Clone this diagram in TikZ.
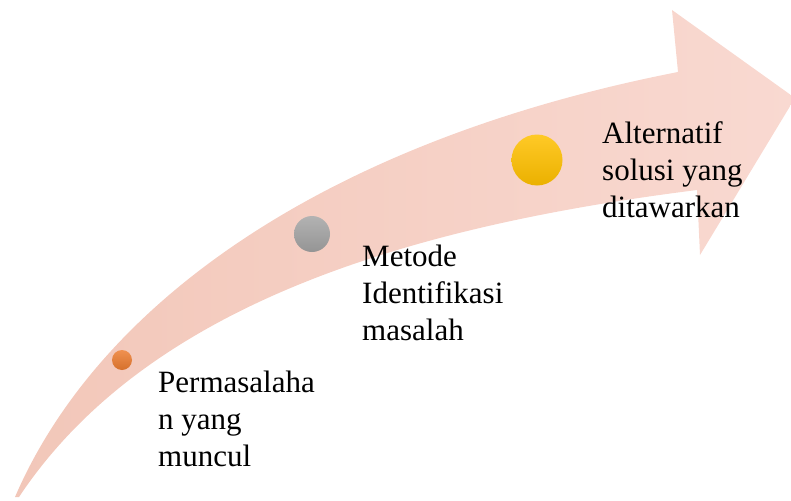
\documentclass[tikz,border=0pt]{standalone}
\usepackage{fontspec}
\setmainfont{Liberation Serif}
\definecolor{arrowtail}{HTML}{F2C7B9}
\definecolor{arrowhead}{HTML}{F9D9D1}
\definecolor{dotorange}{HTML}{ED7D31}
\definecolor{dotgray}{HTML}{A5A5A5}
\definecolor{dotyellow}{HTML}{FFC000}
\begin{document}
\begin{tikzpicture}[x=1pt, y=-1pt, font=\fontsize{31}{37}\selectfont,
    stepdot/.style={circle, inner sep=0pt, minimum size=#1},
    steptext/.style={anchor=base west, align=left, inner sep=0pt}]

    \useasboundingbox (0,0) rectangle (791,500);

    % --- Freccia curva (dalla coda in basso a sinistra alla punta) ---
    \shade[left color=arrowtail, right color=arrowhead]
        (15,497) .. controls (100,300) and (330,140) .. (678,72)
        -- (672,10) -- (795,98) -- (700,255) -- (697,190)
        .. controls (420,225) and (150,300) .. (19,497) -- cycle;

    % --- Pallini delle tre fasi ---
    \node[stepdot=20pt, top color=dotorange!85!white, bottom color=dotorange!90!black] (dotA) at (122,360) {};
    \node[stepdot=36pt, top color=dotgray!85!white, bottom color=dotgray!90!black] (dotB) at (312,234) {};
    \node[stepdot=51pt, top color=dotyellow!85!white, bottom color=dotyellow!92!black] (dotC) at (537,160) {};

    % --- Testi delle fasi (ancorati alla base dell'ultima riga) ---
    \node[steptext] (textA) at (158,466) {Permasalaha\\n yang\\muncul};
    \node[steptext] (textB) at (362,340) {Metode\\Identifikasi\\masalah};
    \node[steptext] (textC) at (602,217) {Alternatif\\solusi yang\\ditawarkan};

\end{tikzpicture}
\end{document}
